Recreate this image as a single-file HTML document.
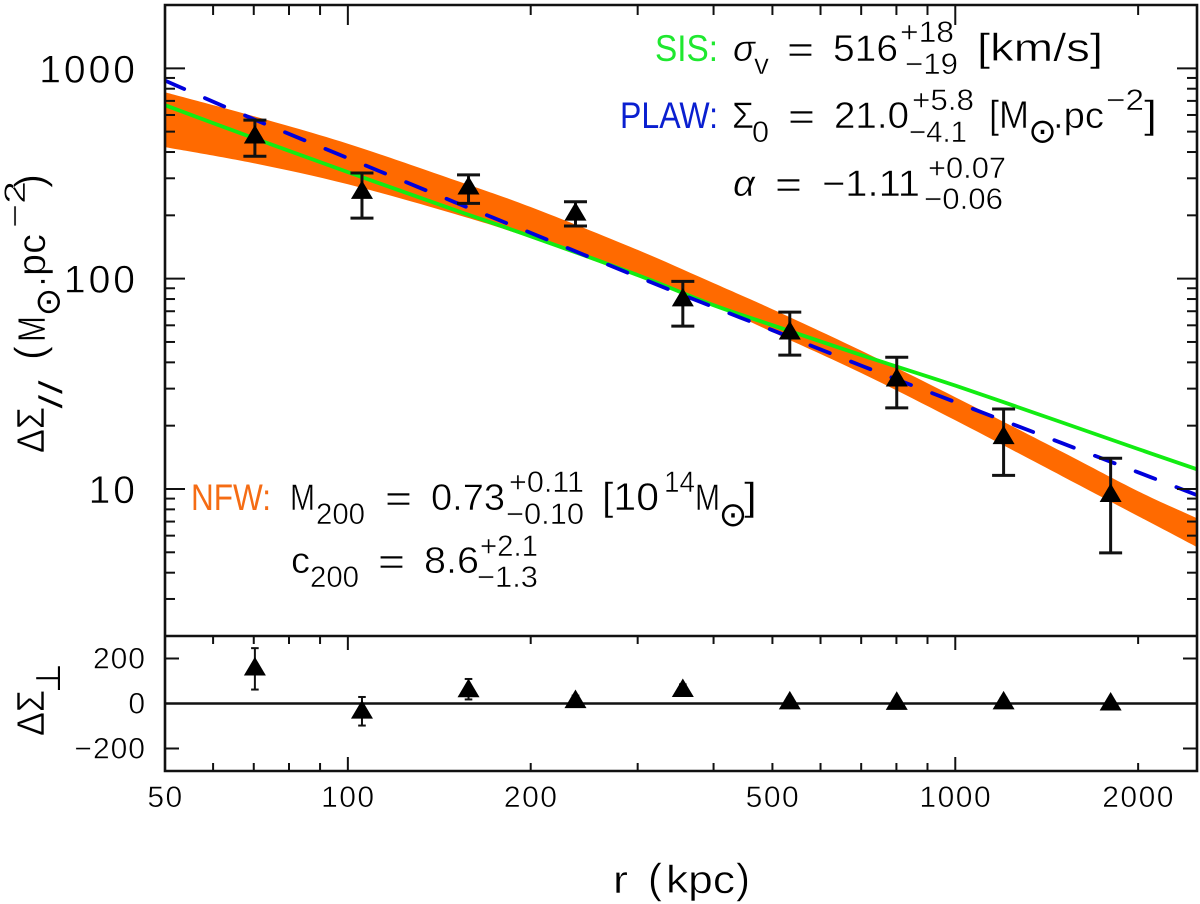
<!DOCTYPE html>
<html lang="en">
<head>
<meta charset="utf-8">
<title>Lensing profile</title>
<style>
html,body{margin:0;padding:0;background:#fff}
svg{display:block}
text{font-family:"Liberation Sans","DejaVu Sans",sans-serif;fill:#000;stroke:#fff;stroke-width:.5}
.sym{font-family:"DejaVu Sans","Liberation Sans",sans-serif;stroke:none}
.green{fill:#1fe82f;stroke:none}
.blue{fill:#0a1fd0;stroke:none}
.orange{fill:#f56c14;stroke:none}
</style>
</head>
<body>
<svg id="chart" xmlns="http://www.w3.org/2000/svg" width="1200" height="904" viewBox="0 0 1200 904">
  <defs>
    <clipPath id="main-clip"><rect x="165" y="5" width="1032" height="631"/></clipPath>
  </defs>
  <g id="marks"></g>

  <g>
    <text class="green" x="655" y="61" font-size="37" textLength="63" lengthAdjust="spacingAndGlyphs">SIS:</text>
    <text x="733" y="61" font-size="37" font-style="italic" textLength="22" lengthAdjust="spacingAndGlyphs">σ</text>
    <text x="754" y="74" font-size="30" textLength="15" lengthAdjust="spacingAndGlyphs">v</text>
    <text x="787" y="62" font-size="37" textLength="27" lengthAdjust="spacingAndGlyphs">=</text>
    <text x="833" y="61" font-size="37" textLength="65" lengthAdjust="spacingAndGlyphs">516</text>
    <text x="900" y="42" font-size="30" textLength="54" lengthAdjust="spacingAndGlyphs">+18</text>
    <text x="905" y="74" font-size="30" textLength="53" lengthAdjust="spacingAndGlyphs">−19</text>
    <text x="977" y="61" font-size="39" textLength="126" lengthAdjust="spacingAndGlyphs">[km/s]</text>
  </g>

  <g>
    <text class="blue" x="620" y="128" font-size="37" textLength="98" lengthAdjust="spacingAndGlyphs">PLAW:</text>
    <text x="732" y="128" font-size="37" textLength="22" lengthAdjust="spacingAndGlyphs">Σ</text>
    <text x="752" y="142" font-size="30" textLength="17" lengthAdjust="spacingAndGlyphs">0</text>
    <text x="788" y="129" font-size="37" textLength="27" lengthAdjust="spacingAndGlyphs">=</text>
    <text x="834" y="128" font-size="37" textLength="75" lengthAdjust="spacingAndGlyphs">21.0</text>
    <text x="912" y="110" font-size="30" textLength="62" lengthAdjust="spacingAndGlyphs">+5.8</text>
    <text x="909" y="142" font-size="30" textLength="58" lengthAdjust="spacingAndGlyphs">−4.1</text>
    <text x="989" y="128" font-size="39" textLength="40" lengthAdjust="spacingAndGlyphs">[M</text>
    <text class="sym" x="1028.3" y="142.5" font-size="34">⊙</text>
    <text x="1053" y="128" font-size="37" textLength="51" lengthAdjust="spacingAndGlyphs">.pc</text>
    <text x="1106" y="110" font-size="30" textLength="38" lengthAdjust="spacingAndGlyphs">−2</text>
    <text x="1144" y="128" font-size="39" textLength="13" lengthAdjust="spacingAndGlyphs">]</text>
    <text x="733" y="196" font-size="37" font-style="italic" textLength="22" lengthAdjust="spacingAndGlyphs">α</text>
    <text x="775" y="197" font-size="37" textLength="27" lengthAdjust="spacingAndGlyphs">=</text>
    <text x="822" y="196" font-size="37" textLength="98" lengthAdjust="spacingAndGlyphs">−1.11</text>
    <text x="928" y="178" font-size="30" textLength="78" lengthAdjust="spacingAndGlyphs">+0.07</text>
    <text x="924" y="209" font-size="30" textLength="79" lengthAdjust="spacingAndGlyphs">−0.06</text>
  </g>

  <g>
    <text class="orange" x="191" y="510" font-size="37" textLength="80" lengthAdjust="spacingAndGlyphs">NFW:</text>
    <text x="290" y="510" font-size="37" textLength="25" lengthAdjust="spacingAndGlyphs">M</text>
    <text x="316" y="524" font-size="30" textLength="49" lengthAdjust="spacingAndGlyphs">200</text>
    <text x="385" y="511" font-size="37" textLength="27" lengthAdjust="spacingAndGlyphs">=</text>
    <text x="431" y="510" font-size="37" textLength="74" lengthAdjust="spacingAndGlyphs">0.73</text>
    <text x="509" y="492" font-size="30" textLength="75" lengthAdjust="spacingAndGlyphs">+0.11</text>
    <text x="506" y="524" font-size="30" textLength="78" lengthAdjust="spacingAndGlyphs">−0.10</text>
    <text x="602" y="510" font-size="39" textLength="57" lengthAdjust="spacingAndGlyphs">[10</text>
    <text x="664" y="492" font-size="30" textLength="31" lengthAdjust="spacingAndGlyphs">14</text>
    <text x="695" y="510" font-size="37" textLength="25" lengthAdjust="spacingAndGlyphs">M</text>
    <text class="sym" x="718.8" y="526" font-size="34">⊙</text>
    <text x="744" y="510" font-size="39" textLength="13" lengthAdjust="spacingAndGlyphs">]</text>
    <text x="291" y="573" font-size="37" textLength="19" lengthAdjust="spacingAndGlyphs">c</text>
    <text x="310" y="587" font-size="30" textLength="49" lengthAdjust="spacingAndGlyphs">200</text>
    <text x="378" y="574" font-size="37" textLength="27" lengthAdjust="spacingAndGlyphs">=</text>
    <text x="424" y="573" font-size="37" textLength="55" lengthAdjust="spacingAndGlyphs">8.6</text>
    <text x="480" y="556" font-size="30" textLength="58" lengthAdjust="spacingAndGlyphs">+2.1</text>
    <text x="477" y="587" font-size="30" textLength="61" lengthAdjust="spacingAndGlyphs">−1.3</text>
  </g>

  <g>
    <text transform="translate(44,453) rotate(-90)" font-size="39" textLength="46" lengthAdjust="spacingAndGlyphs">ΔΣ</text>
    <text transform="translate(62,409) rotate(-90)" font-size="33" textLength="29" lengthAdjust="spacingAndGlyphs">//</text>
    <text transform="translate(44,360) rotate(-90)" font-size="42" textLength="14" lengthAdjust="spacingAndGlyphs">(</text>
    <text transform="translate(45,342) rotate(-90)" font-size="39" textLength="26" lengthAdjust="spacingAndGlyphs">M</text>
    <text class="sym" transform="translate(59.5,316.2) rotate(-90)" font-size="34">⊙</text>
    <text transform="translate(45,287) rotate(-90)" font-size="39" textLength="53" lengthAdjust="spacingAndGlyphs">.pc</text>
    <text transform="translate(25,228) rotate(-90)" font-size="30" textLength="47" lengthAdjust="spacingAndGlyphs">−2</text>
    <text transform="translate(44,188) rotate(-90)" font-size="42" textLength="14" lengthAdjust="spacingAndGlyphs">)</text>
  </g>

  <g>
    <text transform="translate(44,736) rotate(-90)" font-size="39" textLength="46" lengthAdjust="spacingAndGlyphs">ΔΣ</text>
    <text class="sym" transform="translate(60,693) rotate(-90)" font-size="34">⊥</text>
  </g>

  <g>
    <text x="613" y="893" font-size="39" textLength="15" lengthAdjust="spacingAndGlyphs">r</text>
    <text x="648" y="893" font-size="42" textLength="14" lengthAdjust="spacingAndGlyphs">(</text>
    <text x="666" y="893" font-size="39" textLength="69" lengthAdjust="spacingAndGlyphs">kpc</text>
    <text x="736" y="893" font-size="42" textLength="14" lengthAdjust="spacingAndGlyphs">)</text>
  </g>
</svg>
<script>
// ---- chart data ----
const curveRadii = [50, 70, 100, 150, 200, 300, 400, 500, 700, 1000, 1500, 2000, 2500];
const nfwUpper = [770, 592, 438, 294, 219, 137, 95.2, 71.6, 45.5, 27.3, 15.0, 9.76, 7.26];
const nfwLower = [422, 354, 281, 203, 156, 102, 74.8, 55.7, 35.6, 21.2, 11.5, 7.43, 5.29];
const sisCurve = [668, 466, 321, 212, 159, 104, 74.8, 60.1, 43.3, 31, 20.7, 15.5, 12.4];
const plawCurve = [874, 573, 374, 231, 165, 102, 73.2, 56.9, 38.6, 25.9, 16.5, 12.0, 9.35];

const pointRadii = [70.3, 105.5, 158, 237, 356, 534, 801, 1201, 1802];
const parallelValues = [486, 265, 278, 209, 81.7, 56.9, 34, 18.1, 9.6];
const parallelErrHigh = [567, 318, 311.6, 232, 97, 69.3, 42.3, 24, 14];
const parallelErrLow = [382, 194, 228, 178, 59.5, 43.3, 24.3, 11.6, 4.97];

const crossValues = [166, -26, 69, 21, 70, 15, 13, 15, 10];
const crossErrHigh = [246, 29, 109, 35, 85, 25, 20, 25, 18];
const crossErrLow = [62, -98, 18, -10, 55, 5, 5, 5, 2];

const xTickLabels = [50, 100, 200, 500, 1000, 2000];
const xMajorTicks = [100, 1000];
const xMinorTicks = [60, 70, 80, 90, 200, 300, 400, 500, 600, 700, 800, 900, 2000];
const yMainLabels = [1000, 100, 10];
const yMainMinorTicks = [3, 4, 5, 6, 7, 8, 9, 20, 30, 40, 50, 60, 70, 80, 90, 200, 300, 400, 500, 600, 700, 800, 900];
const yLowerLabels = [200, 0, -200];

// ---- axis functions ----
const NS = 'http://www.w3.org/2000/svg';
const left = 165, right = 1197, top0 = 5, mid = 636, bottom = 771;
const xDomain = [50, 2500], yMainDomain = [2, 2000], yLowerDomain = [-300, 300];
function xScale(r) {
  return left + (right - left) * Math.log10(r / xDomain[0]) / Math.log10(xDomain[1] / xDomain[0]);
}
function yMain(v) {
  return mid - (mid - top0) * Math.log10(v / yMainDomain[0]) / Math.log10(yMainDomain[1] / yMainDomain[0]);
}
function yLower(v) {
  return bottom - (bottom - mid) * (v - yLowerDomain[0]) / (yLowerDomain[1] - yLowerDomain[0]);
}
const marks = document.getElementById('marks');
function mk(tag, attrs, parent) {
  const el = document.createElementNS(NS, tag);
  for (const k in attrs) el.setAttribute(k, attrs[k]);
  (parent || marks).appendChild(el);
  return el;
}
function seg(x1, y1, x2, y2, w, parent) {
  return mk('line', {x1: x1, y1: y1, x2: x2, y2: y2, stroke: '#111', 'stroke-width': w}, parent);
}
function curvePoints(radii, values) {
  return radii.map(function (r, i) { return [xScale(r), yMain(values[i])]; });
}
// Catmull-Rom smoothing through the sampled curve points
function smooth(p) {
  let d = '';
  for (let i = 0; i < p.length - 1; i++) {
    const a = p[Math.max(i - 1, 0)], b = p[i], c = p[i + 1], e = p[Math.min(i + 2, p.length - 1)];
    const c1x = b[0] + (c[0] - a[0]) / 6, c1y = b[1] + (c[1] - a[1]) / 6;
    const c2x = c[0] - (e[0] - b[0]) / 6, c2y = c[1] - (e[1] - b[1]) / 6;
    d += 'C' + c1x.toFixed(1) + ' ' + c1y.toFixed(1) + ' ' + c2x.toFixed(1) + ' ' + c2y.toFixed(1) + ' ' + c[0].toFixed(1) + ' ' + c[1].toFixed(1);
  }
  return d;
}
function moveTo(p) { return 'M' + p[0].toFixed(1) + ' ' + p[1].toFixed(1); }
function lineTo(p) { return 'L' + p[0].toFixed(1) + ' ' + p[1].toFixed(1); }

// ---- curves ----
const curves = mk('g', {'clip-path': 'url(#main-clip)'});



const upPts = curvePoints(curveRadii, nfwUpper);
const loPts = curvePoints(curveRadii, nfwLower).reverse();
const band = mk('path', {d: moveTo(upPts[0]) + smooth(upPts) + lineTo(loPts[0]) + smooth(loPts) + 'Z', fill: '#ff6a00'}, curves);



const sisPts = curvePoints(curveRadii, sisCurve);
const sis = mk('path', {d: moveTo(sisPts[0]) + smooth(sisPts), fill: 'none', stroke: '#12ec12', 'stroke-width': 3.8}, curves);



const plawPts = curvePoints(curveRadii, plawCurve);
const plaw = mk('path', {d: moveTo(plawPts[0]) + smooth(plawPts), fill: 'none', stroke: '#0000dc', 'stroke-width': 3.8, 'stroke-dasharray': '21 22.6', 'stroke-linecap': 'round'}, curves);



// ---- zero line of lower panel ----
const zero = seg(left, yLower(0), right, yLower(0), 2.6);



// ---- data points ----
function drawPoint(r, val, hi, lo, yFn, capHalf, w, name) {
  const g = mk('g', {});
  
  
  const x = xScale(r), y = yFn(val), yh = yFn(hi), yl = yFn(lo);
  seg(x, yh, x, yl, w, g);
  seg(x - capHalf, yh, x + capHalf, yh, w, g);
  seg(x - capHalf, yl, x + capHalf, yl, w, g);
  mk('polygon', {points: (x - 11) + ',' + (y + 9.3) + ' ' + (x + 11) + ',' + (y + 9.3) + ' ' + x + ',' + (y - 9.3), fill: '#000'}, g);
}
pointRadii.forEach(function (r, i) {
  drawPoint(r, parallelValues[i], parallelErrHigh[i], parallelErrLow[i], yMain, 11.5, 3, 'parallel-point-' + (i + 1));
  drawPoint(r, crossValues[i], crossErrHigh[i], crossErrLow[i], yLower, 3.8, 2, 'cross-point-' + (i + 1));
});

// ---- ticks ----
const ticks = mk('g', {});


xMajorTicks.forEach(function (t) {
  const x = xScale(t);
  seg(x, top0, x, top0 + 20, 2, ticks);
  seg(x, mid, x, mid + 14, 2, ticks);
  seg(x, bottom, x, bottom - 14, 2, ticks);
});
xMinorTicks.forEach(function (t) {
  const x = xScale(t);
  seg(x, top0, x, top0 + 10, 2, ticks);
  seg(x, mid, x, mid + 8, 2, ticks);
  seg(x, bottom, x, bottom - 8, 2, ticks);
});
yMainLabels.forEach(function (t) {
  const y = yMain(t);
  seg(left, y, left + 20, y, 2, ticks);
  seg(right, y, right - 20, y, 2, ticks);
});
yMainMinorTicks.forEach(function (t) {
  const y = yMain(t);
  seg(left, y, left + 10, y, 2, ticks);
  seg(right, y, right - 10, y, 2, ticks);
});
yLowerLabels.forEach(function (t) {
  const y = yLower(t);
  seg(left, y, left + 14, y, 2, ticks);
  seg(right, y, right - 14, y, 2, ticks);
});

// ---- frames ----
const frame = mk('path', {d: 'M' + left + ' ' + top0 + 'H' + right + 'V' + bottom + 'H' + left + 'Z M' + left + ' ' + mid + 'H' + right, fill: 'none', stroke: '#111', 'stroke-width': 2.6});



// ---- tick labels ----
function label(str, x, y, size, anchor, spacing, name) {
  const t = mk('text', {x: x, y: y, 'font-size': size, 'text-anchor': anchor, 'letter-spacing': spacing});
  
  
  t.textContent = str;
}
yMainLabels.forEach(function (t) {
  label(String(t), 138, yMain(t) + 14, 39, 'end', 3, 'y-tick-label-' + t);
});
yLowerLabels.forEach(function (t) {
  label(String(t).replace('-', '\u2212'), 146, yLower(t) + 10, 30, 'end', 1, 'y-lower-tick-label-' + t);
});
xTickLabels.forEach(function (t) {
  label(String(t), xScale(t) + 0.5, 807, 30, 'middle', 1.5, 'x-tick-label-' + t);
});
</script>
</body>
</html>
